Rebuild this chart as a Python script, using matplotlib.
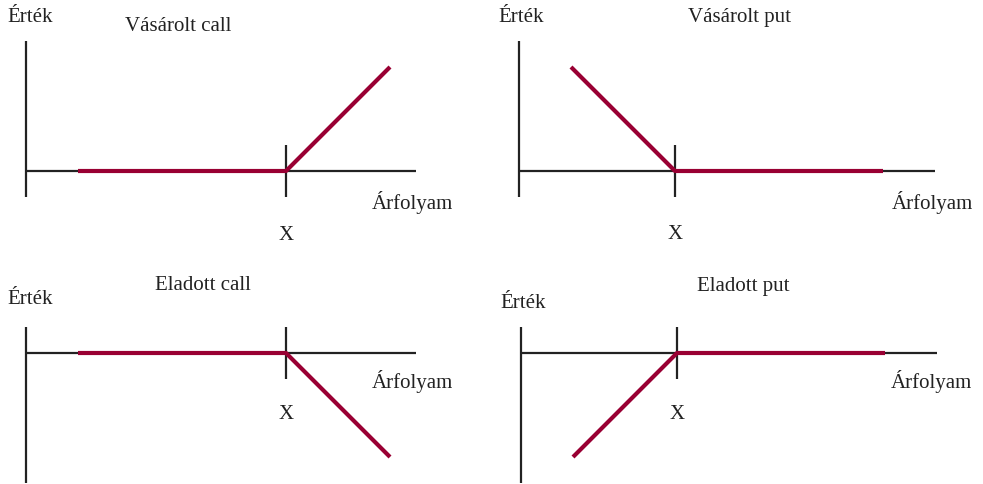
import matplotlib
matplotlib.use("Agg")
import matplotlib.pyplot as plt

# adatok: négy opciós pozíció kifizetése (ár, érték), egység = rácsegység
titles = ["Vásárolt call", "Vásárolt put", "Eladott call", "Eladott put"]
strikes = [10, 6, 10, 6]
axis_ends = [15, 16, 15, 16]
payoff_x = [[2, 10, 14], [2, 6, 14], [2, 10, 14], [2, 6, 14]]
payoff_y = [[0, 0, 4], [4, 0, 0], [0, 0, -4], [-4, 0, 0]]
vert_range = [(-1, 5), (-1, 5), (-5, 1), (-5, 1)]

# címek helye (x, y) minden panelben
title_pos = [(5.85, 5.55), (8.5, 5.9), (6.8, 2.6), (8.55, 2.55)]
ertek_pos = [(0.15, 5.9), (0.1, 5.9), (0.15, 2.05), (0.1, 1.9)]
arf_pos = [(14.85, -1.2), (15.9, -1.2), (14.85, -1.1), (15.8, -1.1)]
x_lab_y = [-2.5, -2.45, -2.35, -2.35]

# panelek origója pixelben
origins = [(26, 171), (519, 171), (26, 353), (521, 353)]

W, H = 983, 484
unit = 26.0
RED = "#990033"
FS = 15
plt.rcParams['font.family'] = ['Liberation Serif', 'DejaVu Serif']

fig = plt.figure(figsize=(W / 100, H / 100), dpi=100)

for i in range(4):
    ox, oy = origins[i]
    x0, x1 = -1, 18
    y0, y1 = -6, 7
    left = (ox + x0 * unit) / W
    bottom = (H - oy + y0 * unit) / H
    ax = fig.add_axes([left, bottom, (x1 - x0) * unit / W, (y1 - y0) * unit / H])
    ax.set_xlim(x0, x1)
    ax.set_ylim(y0, y1)
    ax.axis('off')

    # tengelyek
    ax.plot([0, axis_ends[i]], [0, 0], color='#222222', lw=1.6, solid_capstyle='butt', clip_on=False)
    ax.plot([0, 0], list(vert_range[i]), color='#222222', lw=1.6, solid_capstyle='butt', clip_on=False)
    ax.plot([strikes[i], strikes[i]], [-1, 1], color='#222222', lw=1.6, solid_capstyle='butt')

    # kifizetés
    ax.plot(payoff_x[i], payoff_y[i], color=RED, lw=3, solid_capstyle='butt', zorder=3)

    ax.text(*title_pos[i], titles[i], ha='center', va='center', fontsize=FS, color='#222222')
    ax.text(*ertek_pos[i], "Érték", ha='center', va='center', fontsize=FS, color='#222222')
    ax.text(*arf_pos[i], "Árfolyam", ha='center', va='center', fontsize=FS, color='#222222')
    ax.text(strikes[i], x_lab_y[i], "X", ha='center', va='center', fontsize=FS, color='#222222')

fig.savefig("out.png", dpi=100)
